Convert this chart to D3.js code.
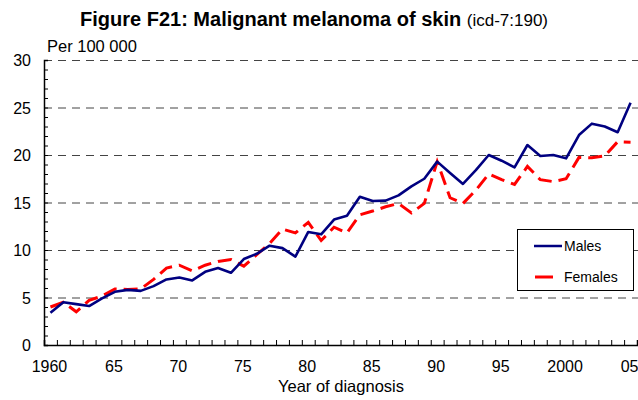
<!DOCTYPE html>
<html lang="en">
<head>
<meta charset="utf-8">
<title>Figure F21: Malignant melanoma of skin</title>
<script src="https://d3js.org/d3.v7.min.js"></script>
<style>
  body { margin: 0; background: #fff; }
  text { font-family: "Liberation Sans", Arial, sans-serif; fill: #000; }
</style>
</head>
<body>
<div id="chart"></div>
<script>

// data, per 100 000
var years = d3.range(1960, 2006);
var males = [3.4, 4.5, 4.3, 4.1, 4.9, 5.6, 5.8, 5.7, 6.2, 6.9,
             7.1, 6.8, 7.7, 8.1, 7.6, 9.05, 9.6, 10.45, 10.2, 9.3,
             11.9, 11.65, 13.2, 13.6, 15.6, 15.15, 15.2, 15.75, 16.7, 17.5,
             19.3, 18.1, 16.95, 18.4, 20.0, 19.4, 18.7, 21.05, 19.9, 20.0,
             19.65, 22.1, 23.3, 23.0, 22.4, 25.5];
var females = [4.0, 4.5, 3.5, 4.7, 5.15, 5.9, 5.85, 5.9, 6.9, 8.1,
               8.4, 7.8, 8.4, 8.8, 9.0, 8.3, 9.5, 10.7, 12.2, 11.8,
               12.9, 11.0, 12.4, 11.8, 13.7, 14.1, 14.55, 14.9, 13.9, 14.9,
               19.3, 15.5, 14.9, 16.3, 18.0, 17.4, 16.9, 18.8, 17.4, 17.2,
               17.5, 19.75, 19.7, 19.9, 21.4, 21.35];
var xTickYears = [1960, 1965, 1970, 1975, 1980, 1985, 1990, 1995, 2000, 2005];
var xTickLabels = ["1960", "65", "70", "75", "80", "85", "90", "95", "2000", "05"];
var yTicks = [0, 5, 10, 15, 20, 25, 30];

var W = 638, H = 400;
var plotLeft = 44, plotRight = 637, plotTop = 60, plotBottom = 345;

var svg = d3.select("#chart").append("svg")
    .attr("width", W)
    .attr("height", H);

// category style x axis: each year sits in the middle of its slot
var x = d3.scaleLinear().domain([1959.5, 2005.5]).range([plotLeft, plotRight]);
var y = d3.scaleLinear().domain([0, 30]).range([plotBottom, plotTop]);

// dashed grid lines
svg.append("g")
  .selectAll("line")
  .data(yTicks.filter(d => d > 0))
  .enter().append("line")
    .attr("x1", plotLeft).attr("x2", W)
    .attr("y1", d => y(d) + 0.5).attr("y2", d => y(d) + 0.5)
    .attr("stroke", "#444")
    .attr("stroke-width", 1)
    .attr("stroke-dasharray", "8,6");

// y axis, minor ticks every unit pointing inwards
var yAxis = svg.append("g")
    .attr("transform", "translate(" + plotLeft + ",0)")
    .call(d3.axisRight(y).tickValues(d3.range(0, 31)).tickSize(4).tickFormat(""));
yAxis.select(".domain").attr("stroke", "#000").attr("stroke-width", 1.5);

svg.append("g")
  .selectAll("text")
  .data(yTicks)
  .enter().append("text")
    .attr("x", 31)
    .attr("y", d => y(d) + 6)
    .attr("text-anchor", "end")
    .style("font-size", "16px")
    .text(d => d);

// x axis, ticks between the years pointing up
var xAxis = svg.append("g")
    .attr("transform", "translate(0," + plotBottom + ")")
    .call(d3.axisTop(x).tickValues(d3.range(1960.5, 2005.5, 1)).tickSize(5).tickFormat(""));
xAxis.select(".domain").attr("stroke", "#000").attr("stroke-width", 1.5);

svg.append("g")
  .selectAll("text")
  .data(xTickYears)
  .enter().append("text")
    .attr("x", d => x(d) - 1)
    .attr("y", 372)
    .attr("text-anchor", "middle")
    .style("font-size", "16px")
    .text((d, i) => xTickLabels[i]);

// lines
var line = function(vals) {
  return d3.line()
    .x((d, i) => x(years[i]))
    .y(d => y(d))(vals);
};

svg.append("path")
    .attr("d", line(females))
    .attr("fill", "none")
    .attr("stroke", "#ff0000")
    .attr("stroke-width", 3)
    .attr("stroke-dasharray", "14,7");

svg.append("path")
    .attr("d", line(males))
    .attr("fill", "none")
    .attr("stroke", "#000080")
    .attr("stroke-width", 2.6)
    .attr("stroke-linejoin", "round");

// titles
var title = svg.append("text")
    .attr("x", 80)
    .attr("y", 26)
    .style("font-size", "20px")
    .style("font-weight", "bold");
title.append("tspan").text("Figure F21: Malignant melanoma of skin ");
title.append("tspan")
    .style("font-size", "17px")
    .style("font-weight", "normal")
    .text("(icd-7:190)");

svg.append("text")
    .attr("x", 47)
    .attr("y", 52)
    .style("font-size", "16.5px")
    .text("Per 100 000");

svg.append("text")
    .attr("x", 341)
    .attr("y", 392)
    .attr("text-anchor", "middle")
    .style("font-size", "16.5px")
    .text("Year of diagnosis");

// legend
var legend = svg.append("g");
legend.append("rect")
    .attr("x", 517.5).attr("y", 229.5)
    .attr("width", 116).attr("height", 61)
    .attr("fill", "#fff")
    .attr("stroke", "#000")
    .attr("stroke-width", 1);
legend.append("line")
    .attr("x1", 534).attr("x2", 562)
    .attr("y1", 246).attr("y2", 246)
    .attr("stroke", "#000080").attr("stroke-width", 2.5);
legend.append("text")
    .attr("x", 564).attr("y", 251)
    .style("font-size", "14px")
    .text("Males");
legend.append("line")
    .attr("x1", 535).attr("x2", 553)
    .attr("y1", 277).attr("y2", 277)
    .attr("stroke", "#ff0000").attr("stroke-width", 3);
legend.append("text")
    .attr("x", 564).attr("y", 282)
    .style("font-size", "14px")
    .text("Females");

</script>
</body>
</html>
